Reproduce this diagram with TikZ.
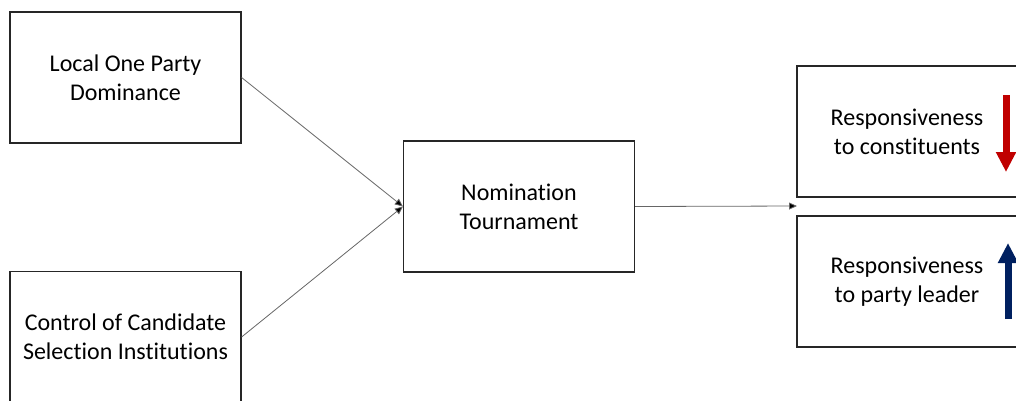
\documentclass[tikz,border=0pt]{standalone}
\usepackage{fontspec}
\setmainfont{Carlito}[Ligatures=NoCommon]
\usetikzlibrary{arrows.meta}
\definecolor{dkred}{HTML}{C00000}
\definecolor{dkblue}{HTML}{002060}
\tikzset{
  box/.style={draw=black!85, line width=1.2pt, minimum width=231pt, minimum height=131pt,
    align=center, inner sep=0pt, font=\fontsize{24}{29}\selectfont},
  conn/.style={draw=black!60, line width=0.8pt, -{Triangle[length=8pt,width=7pt,fill=black]}},
  bigarrow/.style={line width=7pt, -{Triangle[length=20pt,width=19pt]}}
}
\begin{document}
\begin{tikzpicture}[x=1pt,y=-1pt]
\useasboundingbox (0,0) rectangle (1016,400);
\clip (0,0) rectangle (1016,400);
\node[box] (lopd) at (125.5,77.5) {Local One Party\\Dominance};
\node[box] (ccsi) at (125.5,337) {Control of Candidate\\Selection Institutions};
\node[box] (nt) at (519,206.5) {Nomination\\Tournament};
\node[box] (rc) at (912.5,131.5) {};
\node[box] (rp) at (912.5,281.5) {};
\node[font=\fontsize{24}{29}\selectfont, align=center] (rctext) at (907,132) {Responsiveness\\to constituents};
\node[font=\fontsize{24}{29}\selectfont, align=center] (rptext) at (907,282) {Responsiveness\\to party leader};
\coordinate (gap) at (797,206);
\draw[conn] (lopd.east) -- (nt.west);
\draw[conn] (ccsi.east) -- (nt.west);
\draw[conn] (nt.east) -- (gap);
\coordinate (r1) at (1006,95);
\coordinate (r2) at (1006,172);
\coordinate (b1) at (1008,319);
\coordinate (b2) at (1008,243);
\draw[bigarrow, dkred] (r1) -- (r2);
\draw[bigarrow, dkblue] (b1) -- (b2);
\end{tikzpicture}
\end{document}
